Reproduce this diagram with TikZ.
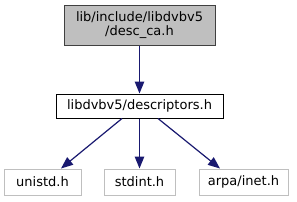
\documentclass[tikz,border=0pt]{standalone}
\usepackage{fontspec}
\setmainfont{DejaVu Sans}
\usetikzlibrary{arrows.meta}
\definecolor{edgeblue}{HTML}{191970}
\definecolor{topfill}{HTML}{BFBFBF}
\definecolor{lightborder}{HTML}{BFBFBF}
\definecolor{darkborder}{HTML}{404040}
\begin{document}
\begin{tikzpicture}[x=1pt,y=-1pt,
  every node/.style={font=\fontsize{13}{14}\selectfont, inner sep=0pt, align=center},
  topbox/.style={draw=darkborder, fill=topfill, line width=1pt, minimum width=151pt, minimum height=40pt},
  midbox/.style={draw=black, fill=white, line width=1pt, minimum width=167pt, minimum height=24pt},
  leafbox/.style={draw=lightborder, fill=white, line width=1pt, minimum height=26pt},
  edge/.style={draw=edgeblue, line width=1.2pt, -{Triangle[length=12pt,width=9.5pt]}}]
\useasboundingbox (0,0) rectangle (297,201);
\fill[white] (0,0) rectangle (297,201);
\node[topbox] (top) at (139.5,25) {lib/include/libdvbv5\\/desc\_ca.h};
\node[midbox] (mid) at (139.5,106) {libdvbv5/descriptors.h};
\node[leafbox, minimum width=77pt] (unistd) at (42.5,182) {unistd.h};
\node[leafbox, minimum width=71pt] (stdint) at (139.5,182) {stdint.h};
\node[leafbox, minimum width=89pt] (arpa) at (243.5,182) {arpa/inet.h};
\draw[edge] (top.south) -- (mid.north);
\draw[edge] ([xshift=-17.5pt]mid.south) -- ([xshift=18.5pt]unistd.north);
\draw[edge] (mid.south) -- (stdint.north);
\draw[edge] ([xshift=18.5pt]mid.south) -- ([xshift=-23.5pt]arpa.north);
\end{tikzpicture}
\end{document}
